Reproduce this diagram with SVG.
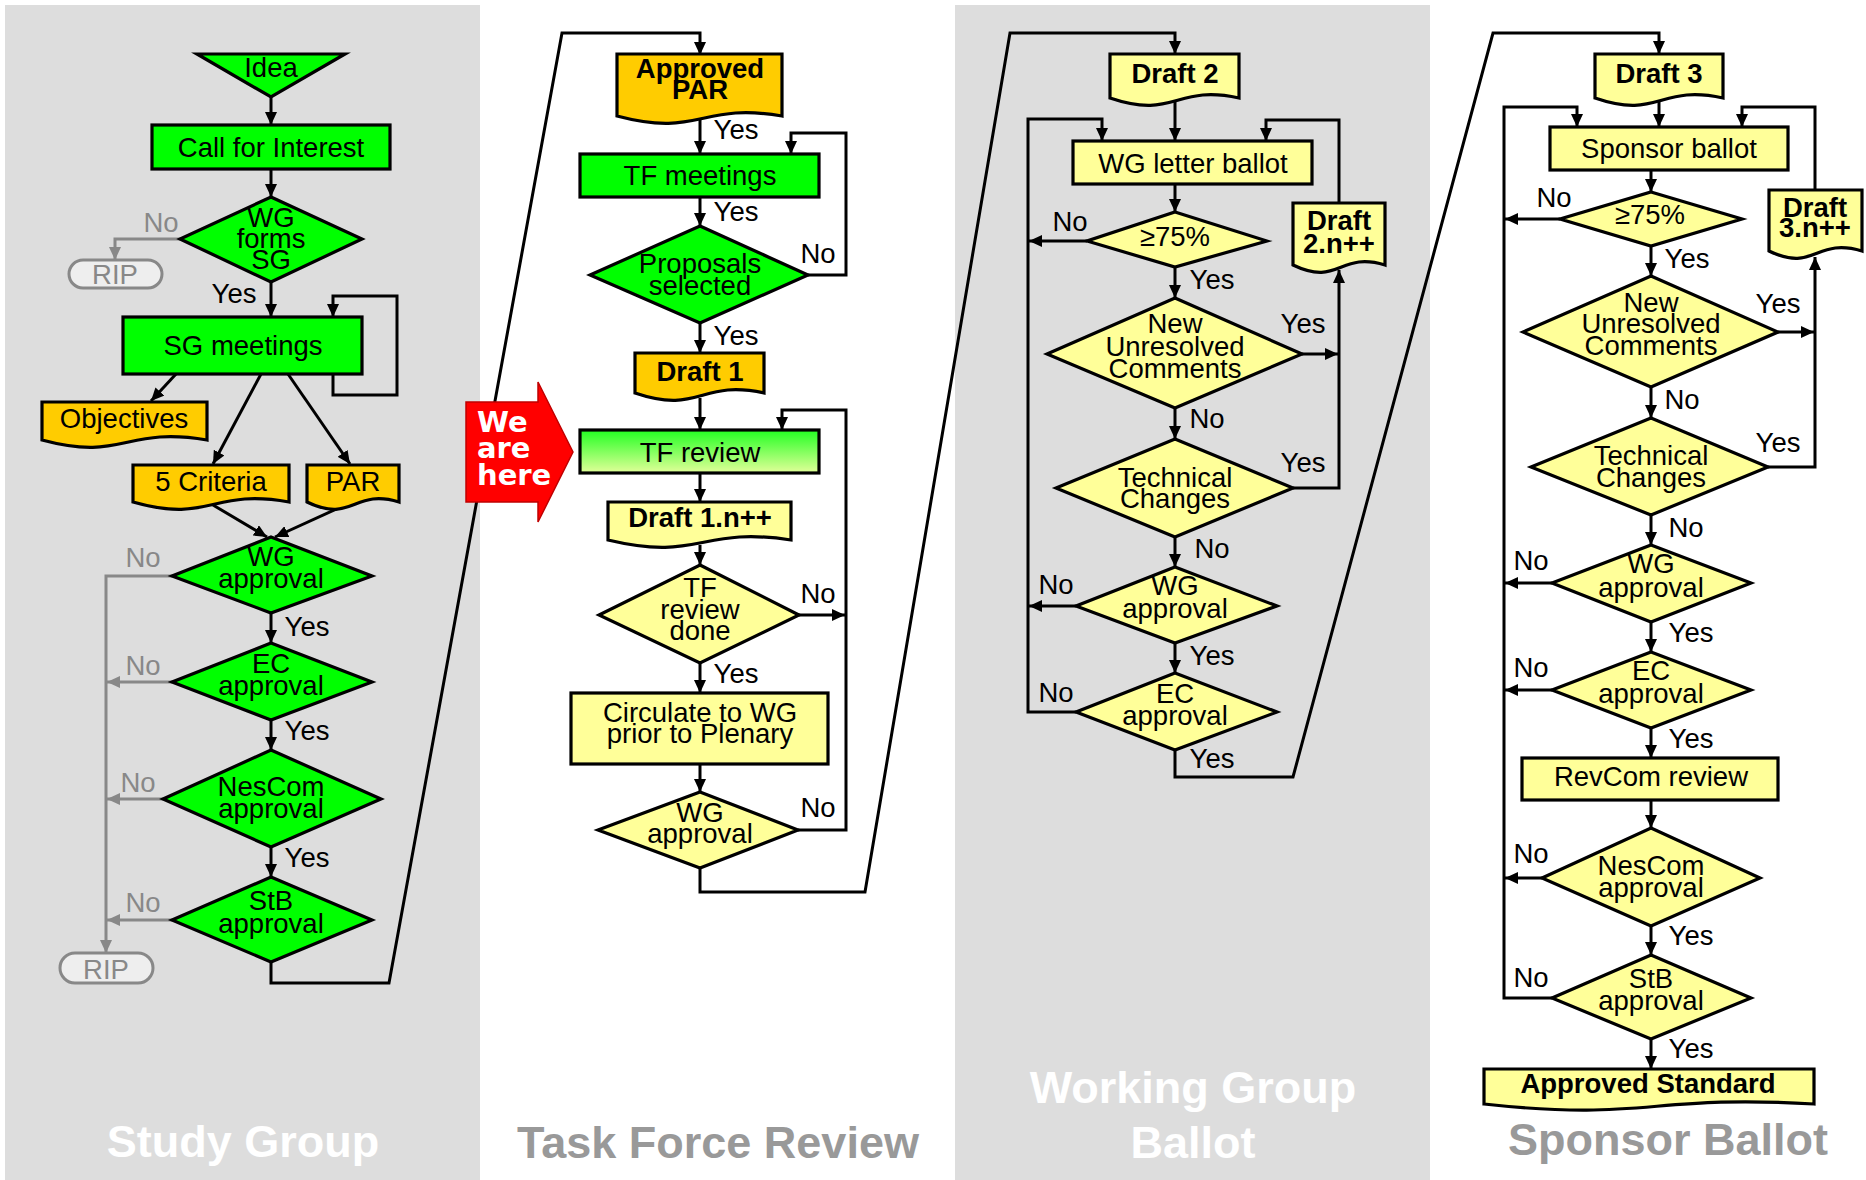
<svg xmlns="http://www.w3.org/2000/svg" width="1866" height="1180" viewBox="0 0 1866 1180">
<style>
.t{font-family:"Liberation Sans",Arial,sans-serif;font-size:27.5px;text-anchor:middle;fill:#000}
.b{font-weight:bold}
.g{fill:#888}
.n{stroke:#000;stroke-width:3.2;stroke-linejoin:miter}
.green{fill:#00ff00}
.org{fill:#ffcc00}
.yel{fill:#ffff99}
.c{fill:none;stroke:#000;stroke-width:3}
.cg{fill:none;stroke:#888;stroke-width:3}
.title{font-family:"Liberation Sans",Arial,sans-serif;font-size:45px;font-weight:bold;text-anchor:middle}
</style>
<defs>
<marker id="a" markerWidth="14" markerHeight="12" refX="13" refY="6" orient="auto" markerUnits="userSpaceOnUse"><path d="M0,0 L13,6 L0,12 z" fill="#000"/></marker>
<marker id="ag" markerWidth="14" markerHeight="12" refX="13" refY="6" orient="auto" markerUnits="userSpaceOnUse"><path d="M0,0 L13,6 L0,12 z" fill="#888"/></marker>
<linearGradient id="tfg" x1="0" y1="0" x2="0" y2="1"><stop offset="0" stop-color="#22ff22"/><stop offset="1" stop-color="#e2ff99"/></linearGradient>
</defs>
<rect width="1866" height="1180" fill="#fff"/>
<g id="panels">
<rect x="5" y="5" width="475" height="1175" fill="#dddddd"/>
<rect x="955" y="5" width="475" height="1175" fill="#dddddd"/>
</g>
<g id="titles">
<text class="title" x="243" y="1157" fill="#fff">Study Group</text>
<text class="title" x="718" y="1158" fill="#999">Task Force Review</text>
<text class="title" x="1193" y="1103" fill="#fff">Working Group</text>
<text class="title" x="1193" y="1158" fill="#fff">Ballot</text>
<text class="title" x="1668" y="1155" fill="#999">Sponsor Ballot</text>
</g>
<g id="connectors">
<path class="c" d="M271,97 V125" marker-end="url(#a)"/>
<path class="c" d="M271,169 V197" marker-end="url(#a)"/>
<path class="cg" d="M180,239 H115 V260" marker-end="url(#ag)"/>
<path class="c" d="M271,282 V317" marker-end="url(#a)"/>
<path class="c" d="M333,374 V395 H397 V296 H333 V317" marker-end="url(#a)"/>
<path class="c" d="M176,374 L151,401" marker-end="url(#a)"/>
<path class="c" d="M261,374 L213,464" marker-end="url(#a)"/>
<path class="c" d="M288,374 L350,464" marker-end="url(#a)"/>
<path class="c" d="M213,505 L267,537" marker-end="url(#a)"/>
<path class="c" d="M343,506 L275,537" marker-end="url(#a)"/>
<path class="cg" d="M172,576 H106 V953" marker-end="url(#ag)"/>
<path class="c" d="M271,613 V643" marker-end="url(#a)"/>
<path class="cg" d="M172,682 H107" marker-end="url(#ag)"/>
<path class="c" d="M271,720 V750" marker-end="url(#a)"/>
<path class="cg" d="M163,799 H107" marker-end="url(#ag)"/>
<path class="c" d="M271,847 V877" marker-end="url(#a)"/>
<path class="cg" d="M172,920 H107" marker-end="url(#ag)"/>
<path class="c" d="M271,962 V983 H389 L562,33 H700 V55" marker-end="url(#a)"/>

<path class="c" d="M700,120 V154" marker-end="url(#a)"/>
<path class="c" d="M700,197 V226" marker-end="url(#a)"/>
<path class="c" d="M808,275 H846 V133 H791 V154" marker-end="url(#a)"/>
<path class="c" d="M700,323 V353" marker-end="url(#a)"/>
<path class="c" d="M700,398 V430" marker-end="url(#a)"/>
<path class="c" d="M798,830 H846 V410 H782 V430" marker-end="url(#a)"/>
<path class="c" d="M700,473 V502" marker-end="url(#a)"/>
<path class="c" d="M700,545 V565" marker-end="url(#a)"/>
<path class="c" d="M799,615 H845" marker-end="url(#a)"/>
<path class="c" d="M700,663 V693" marker-end="url(#a)"/>
<path class="c" d="M700,764 V792" marker-end="url(#a)"/>
<path class="c" d="M700,868 V892 H865 L1010,33 H1175 V54" marker-end="url(#a)"/>

<path class="c" d="M1175,101 V141" marker-end="url(#a)"/>
<path class="c" d="M1076,712 H1028 V119 H1102 V141" marker-end="url(#a)"/>
<path class="c" d="M1339,203 V120 H1266 V141" marker-end="url(#a)"/>
<path class="c" d="M1175,184 V212" marker-end="url(#a)"/>
<path class="c" d="M1087,241 H1029" marker-end="url(#a)"/>
<path class="c" d="M1175,267 V298" marker-end="url(#a)"/>
<path class="c" d="M1302,354 H1338" marker-end="url(#a)"/>
<path class="c" d="M1293,488 H1339 V270" marker-end="url(#a)"/>
<path class="c" d="M1175,408 V439" marker-end="url(#a)"/>
<path class="c" d="M1175,537 V567" marker-end="url(#a)"/>
<path class="c" d="M1076,606 H1029" marker-end="url(#a)"/>
<path class="c" d="M1175,643 V673" marker-end="url(#a)"/>
<path class="c" d="M1175,750 V777 H1293 L1493,33 H1659 V54" marker-end="url(#a)"/>

<path class="c" d="M1659,101 V127" marker-end="url(#a)"/>
<path class="c" d="M1552,998 H1504 V107 H1577 V127" marker-end="url(#a)"/>
<path class="c" d="M1815,190 V107 H1742 V127" marker-end="url(#a)"/>
<path class="c" d="M1651,170 V192" marker-end="url(#a)"/>
<path class="c" d="M1560,219 H1505" marker-end="url(#a)"/>
<path class="c" d="M1651,246 V276" marker-end="url(#a)"/>
<path class="c" d="M1778,332 H1814" marker-end="url(#a)"/>
<path class="c" d="M1768,467 H1815 V257" marker-end="url(#a)"/>
<path class="c" d="M1651,387 V418" marker-end="url(#a)"/>
<path class="c" d="M1651,515 V545" marker-end="url(#a)"/>
<path class="c" d="M1552,583 H1505" marker-end="url(#a)"/>
<path class="c" d="M1651,622 V652" marker-end="url(#a)"/>
<path class="c" d="M1552,690 H1505" marker-end="url(#a)"/>
<path class="c" d="M1651,728 V758" marker-end="url(#a)"/>
<path class="c" d="M1651,800 V828" marker-end="url(#a)"/>
<path class="c" d="M1542,878 H1505" marker-end="url(#a)"/>
<path class="c" d="M1651,926 V955" marker-end="url(#a)"/>
<path class="c" d="M1651,1039 V1069" marker-end="url(#a)"/>
</g>
<g id="labels">
<text class="t g" x="161" y="232">No</text>
<text class="t" x="234" y="303">Yes</text>
<text class="t g" x="143" y="567">No</text>
<text class="t" x="307" y="636">Yes</text>
<text class="t g" x="143" y="675">No</text>
<text class="t" x="307" y="740">Yes</text>
<text class="t g" x="138" y="792">No</text>
<text class="t" x="307" y="867">Yes</text>
<text class="t g" x="143" y="912">No</text>

<text class="t" x="736" y="139">Yes</text>
<text class="t" x="736" y="221">Yes</text>
<text class="t" x="818" y="263">No</text>
<text class="t" x="736" y="345">Yes</text>
<text class="t" x="818" y="603">No</text>
<text class="t" x="736" y="683">Yes</text>
<text class="t" x="818" y="817">No</text>

<text class="t" x="1070" y="231">No</text>
<text class="t" x="1212" y="289">Yes</text>
<text class="t" x="1303" y="333">Yes</text>
<text class="t" x="1207" y="428">No</text>
<text class="t" x="1303" y="472">Yes</text>
<text class="t" x="1212" y="558">No</text>
<text class="t" x="1056" y="594">No</text>
<text class="t" x="1212" y="665">Yes</text>
<text class="t" x="1056" y="702">No</text>
<text class="t" x="1212" y="768">Yes</text>

<text class="t" x="1554" y="207">No</text>
<text class="t" x="1687" y="268">Yes</text>
<text class="t" x="1778" y="313">Yes</text>
<text class="t" x="1682" y="409">No</text>
<text class="t" x="1778" y="452">Yes</text>
<text class="t" x="1686" y="537">No</text>
<text class="t" x="1531" y="570">No</text>
<text class="t" x="1691" y="642">Yes</text>
<text class="t" x="1531" y="677">No</text>
<text class="t" x="1691" y="748">Yes</text>
<text class="t" x="1531" y="863">No</text>
<text class="t" x="1691" y="945">Yes</text>
<text class="t" x="1531" y="987">No</text>
<text class="t" x="1691" y="1058">Yes</text>
</g>

<g id="idea"><polygon class="n green" points="197,54 345,54 271,97"/><text class="t" x="271" y="77">Idea</text></g>
<g id="call-for-interest"><rect class="n green" x="152" y="125" width="238" height="44"/><text class="t" x="271" y="157">Call for Interest</text></g>
<g id="wg-forms-sg"><polygon class="n green" points="271,197 362,239 271,282 180,239"/><text class="t" x="271" y="227">WG</text><text class="t" x="271" y="248">forms</text><text class="t" x="271" y="269">SG</text></g>
<g id="rip1"><rect x="69" y="260" width="93" height="28" rx="14" fill="#eeeeee" stroke="#888" stroke-width="3"/><text class="t g" x="115" y="284">RIP</text></g>
<g id="sg-meetings"><rect class="n green" x="123" y="317" width="239" height="57"/><text class="t" x="243" y="355">SG meetings</text></g>
<g id="objectives"><path class="n org" d="M42,402 H207 V440 C124,426 124,462 42,440 Z"/><text class="t" x="124" y="428">Objectives</text></g>
<g id="five-criteria"><path class="n org" d="M133,465 H289 V502 C211,488 211,524 133,502 Z"/><text class="t" x="211" y="491">5 Criteria</text></g>
<g id="par"><path class="n org" d="M307,465 H399 V502 C353,488 353,524 307,502 Z"/><text class="t" x="353" y="491">PAR</text></g>
<g id="sg-wg-approval"><polygon class="n green" points="271,537 372,576 271,613 172,576"/><text class="t" x="271" y="566">WG</text><text class="t" x="271" y="588">approval</text></g>
<g id="sg-ec-approval"><polygon class="n green" points="271,643 372,682 271,720 172,682"/><text class="t" x="271" y="673">EC</text><text class="t" x="271" y="695">approval</text></g>
<g id="sg-nescom-approval"><polygon class="n green" points="271,750 381,799 271,847 163,799"/><text class="t" x="271" y="796">NesCom</text><text class="t" x="271" y="818">approval</text></g>
<g id="sg-stb-approval"><polygon class="n green" points="271,877 372,920 271,962 172,920"/><text class="t" x="271" y="910">StB</text><text class="t" x="271" y="933">approval</text></g>
<g id="rip2"><rect x="60" y="953" width="93" height="30" rx="15" fill="#eeeeee" stroke="#888" stroke-width="3"/><text class="t g" x="106" y="979">RIP</text></g>

<g id="approved-par"><path class="n org" d="M617,54 H782 V116 C700,102 700,138 617,116 Z"/><text class="t b" x="700" y="78">Approved</text><text class="t b" x="700" y="99">PAR</text></g>
<g id="tf-meetings"><rect class="n green" x="580" y="154" width="239" height="43"/><text class="t" x="700" y="185">TF meetings</text></g>
<g id="proposals-selected"><polygon class="n green" points="700,226 808,275 700,323 590,275"/><text class="t" x="700" y="273">Proposals</text><text class="t" x="700" y="295">selected</text></g>
<g id="draft1"><path class="n org" d="M635,353 H764 V393 C700,379 700,415 635,393 Z"/><text class="t b" x="700" y="381">Draft 1</text></g>
<g id="tf-review"><rect x="580" y="430" width="239" height="43" fill="url(#tfg)" stroke="#000" stroke-width="3.2"/><text class="t" x="700" y="462">TF review</text></g>
<g id="draft1n"><path class="n yel" d="M608,502 H791 V540 C700,526 700,562 608,540 Z"/><text class="t b" x="700" y="527">Draft 1.n++</text></g>
<g id="tf-review-done"><polygon class="n yel" points="700,565 799,615 700,663 599,615"/><text class="t" x="700" y="597">TF</text><text class="t" x="700" y="619">review</text><text class="t" x="700" y="640">done</text></g>
<g id="circulate"><rect class="n yel" x="571" y="693" width="257" height="71"/><text class="t" x="700" y="722">Circulate to WG</text><text class="t" x="700" y="743">prior to Plenary</text></g>
<g id="tf-wg-approval"><polygon class="n yel" points="700,792 798,830 700,868 598,830"/><text class="t" x="700" y="822">WG</text><text class="t" x="700" y="843">approval</text></g>

<g id="draft2"><path class="n yel" d="M1110,54 H1239 V98 C1175,84 1175,120 1110,98 Z"/><text class="t b" x="1175" y="83">Draft 2</text></g>
<g id="wg-letter-ballot"><rect class="n yel" x="1073" y="141" width="239" height="43"/><text class="t" x="1193" y="173">WG letter ballot</text></g>
<g id="wg-75"><polygon class="n yel" points="1175,212 1267,241 1175,267 1087,241"/><text class="t" x="1175" y="246">≥75%</text></g>
<g id="wg-new-unresolved"><polygon class="n yel" points="1175,298 1302,354 1175,408 1047,354"/><text class="t" x="1175" y="333">New</text><text class="t" x="1175" y="356">Unresolved</text><text class="t" x="1175" y="378">Comments</text></g>
<g id="draft2n"><path class="n yel" d="M1293,203 H1385 V265 C1339,251 1339,287 1293,265 Z"/><text class="t b" x="1339" y="230">Draft</text><text class="t b" x="1339" y="253">2.n++</text></g>
<g id="wg-technical"><polygon class="n yel" points="1175,439 1293,488 1175,537 1056,488"/><text class="t" x="1175" y="487">Technical</text><text class="t" x="1175" y="508">Changes</text></g>
<g id="wgb-wg-approval"><polygon class="n yel" points="1175,567 1277,606 1175,643 1076,606"/><text class="t" x="1175" y="595">WG</text><text class="t" x="1175" y="618">approval</text></g>
<g id="wgb-ec-approval"><polygon class="n yel" points="1175,673 1277,712 1175,750 1076,712"/><text class="t" x="1175" y="703">EC</text><text class="t" x="1175" y="725">approval</text></g>

<g id="draft3"><path class="n yel" d="M1595,54 H1723 V98 C1659,84 1659,120 1595,98 Z"/><text class="t b" x="1659" y="83">Draft 3</text></g>
<g id="sponsor-ballot"><rect class="n yel" x="1550" y="127" width="238" height="43"/><text class="t" x="1669" y="158">Sponsor ballot</text></g>
<g id="sb-75"><polygon class="n yel" points="1651,192 1742,219 1651,246 1560,219"/><text class="t" x="1650" y="224">≥75%</text></g>
<g id="sb-new-unresolved"><polygon class="n yel" points="1651,276 1778,332 1651,387 1523,332"/><text class="t" x="1651" y="312">New</text><text class="t" x="1651" y="333">Unresolved</text><text class="t" x="1651" y="355">Comments</text></g>
<g id="draft3n"><path class="n yel" d="M1769,190 H1862 V251 C1815,237 1815,273 1769,251 Z"/><text class="t b" x="1815" y="217">Draft</text><text class="t b" x="1815" y="237">3.n++</text></g>
<g id="sb-technical"><polygon class="n yel" points="1651,418 1768,467 1651,515 1531,467"/><text class="t" x="1651" y="465">Technical</text><text class="t" x="1651" y="487">Changes</text></g>
<g id="sb-wg-approval"><polygon class="n yel" points="1651,545 1751,583 1651,622 1552,583"/><text class="t" x="1651" y="573">WG</text><text class="t" x="1651" y="597">approval</text></g>
<g id="sb-ec-approval"><polygon class="n yel" points="1651,652 1751,690 1651,728 1552,690"/><text class="t" x="1651" y="680">EC</text><text class="t" x="1651" y="703">approval</text></g>
<g id="revcom-review"><rect class="n yel" x="1522" y="758" width="256" height="42"/><text class="t" x="1651" y="786">RevCom review</text></g>
<g id="sb-nescom-approval"><polygon class="n yel" points="1651,828 1760,878 1651,926 1542,878"/><text class="t" x="1651" y="875">NesCom</text><text class="t" x="1651" y="897">approval</text></g>
<g id="sb-stb-approval"><polygon class="n yel" points="1651,955 1751,998 1651,1039 1552,998"/><text class="t" x="1651" y="988">StB</text><text class="t" x="1651" y="1010">approval</text></g>
<g id="approved-standard"><path class="n yel" d="M1484,1069 H1814 V1104 C1648,1094 1648,1122 1484,1104 Z"/><text class="t b" x="1648" y="1093">Approved Standard</text></g>

<g id="we-are-here"><polygon points="466,402 538,402 538,382 573,452 538,522 538,502 466,502" fill="#ff0000" stroke="#c00000" stroke-width="1.5"/>
<text x="477" y="432" font-family="DejaVu Sans, sans-serif" font-weight="bold" font-size="29" fill="#fff">We</text>
<text x="477" y="458" font-family="DejaVu Sans, sans-serif" font-weight="bold" font-size="29" fill="#fff">are</text>
<text x="477" y="485" font-family="DejaVu Sans, sans-serif" font-weight="bold" font-size="29" fill="#fff">here</text></g>
</svg>
